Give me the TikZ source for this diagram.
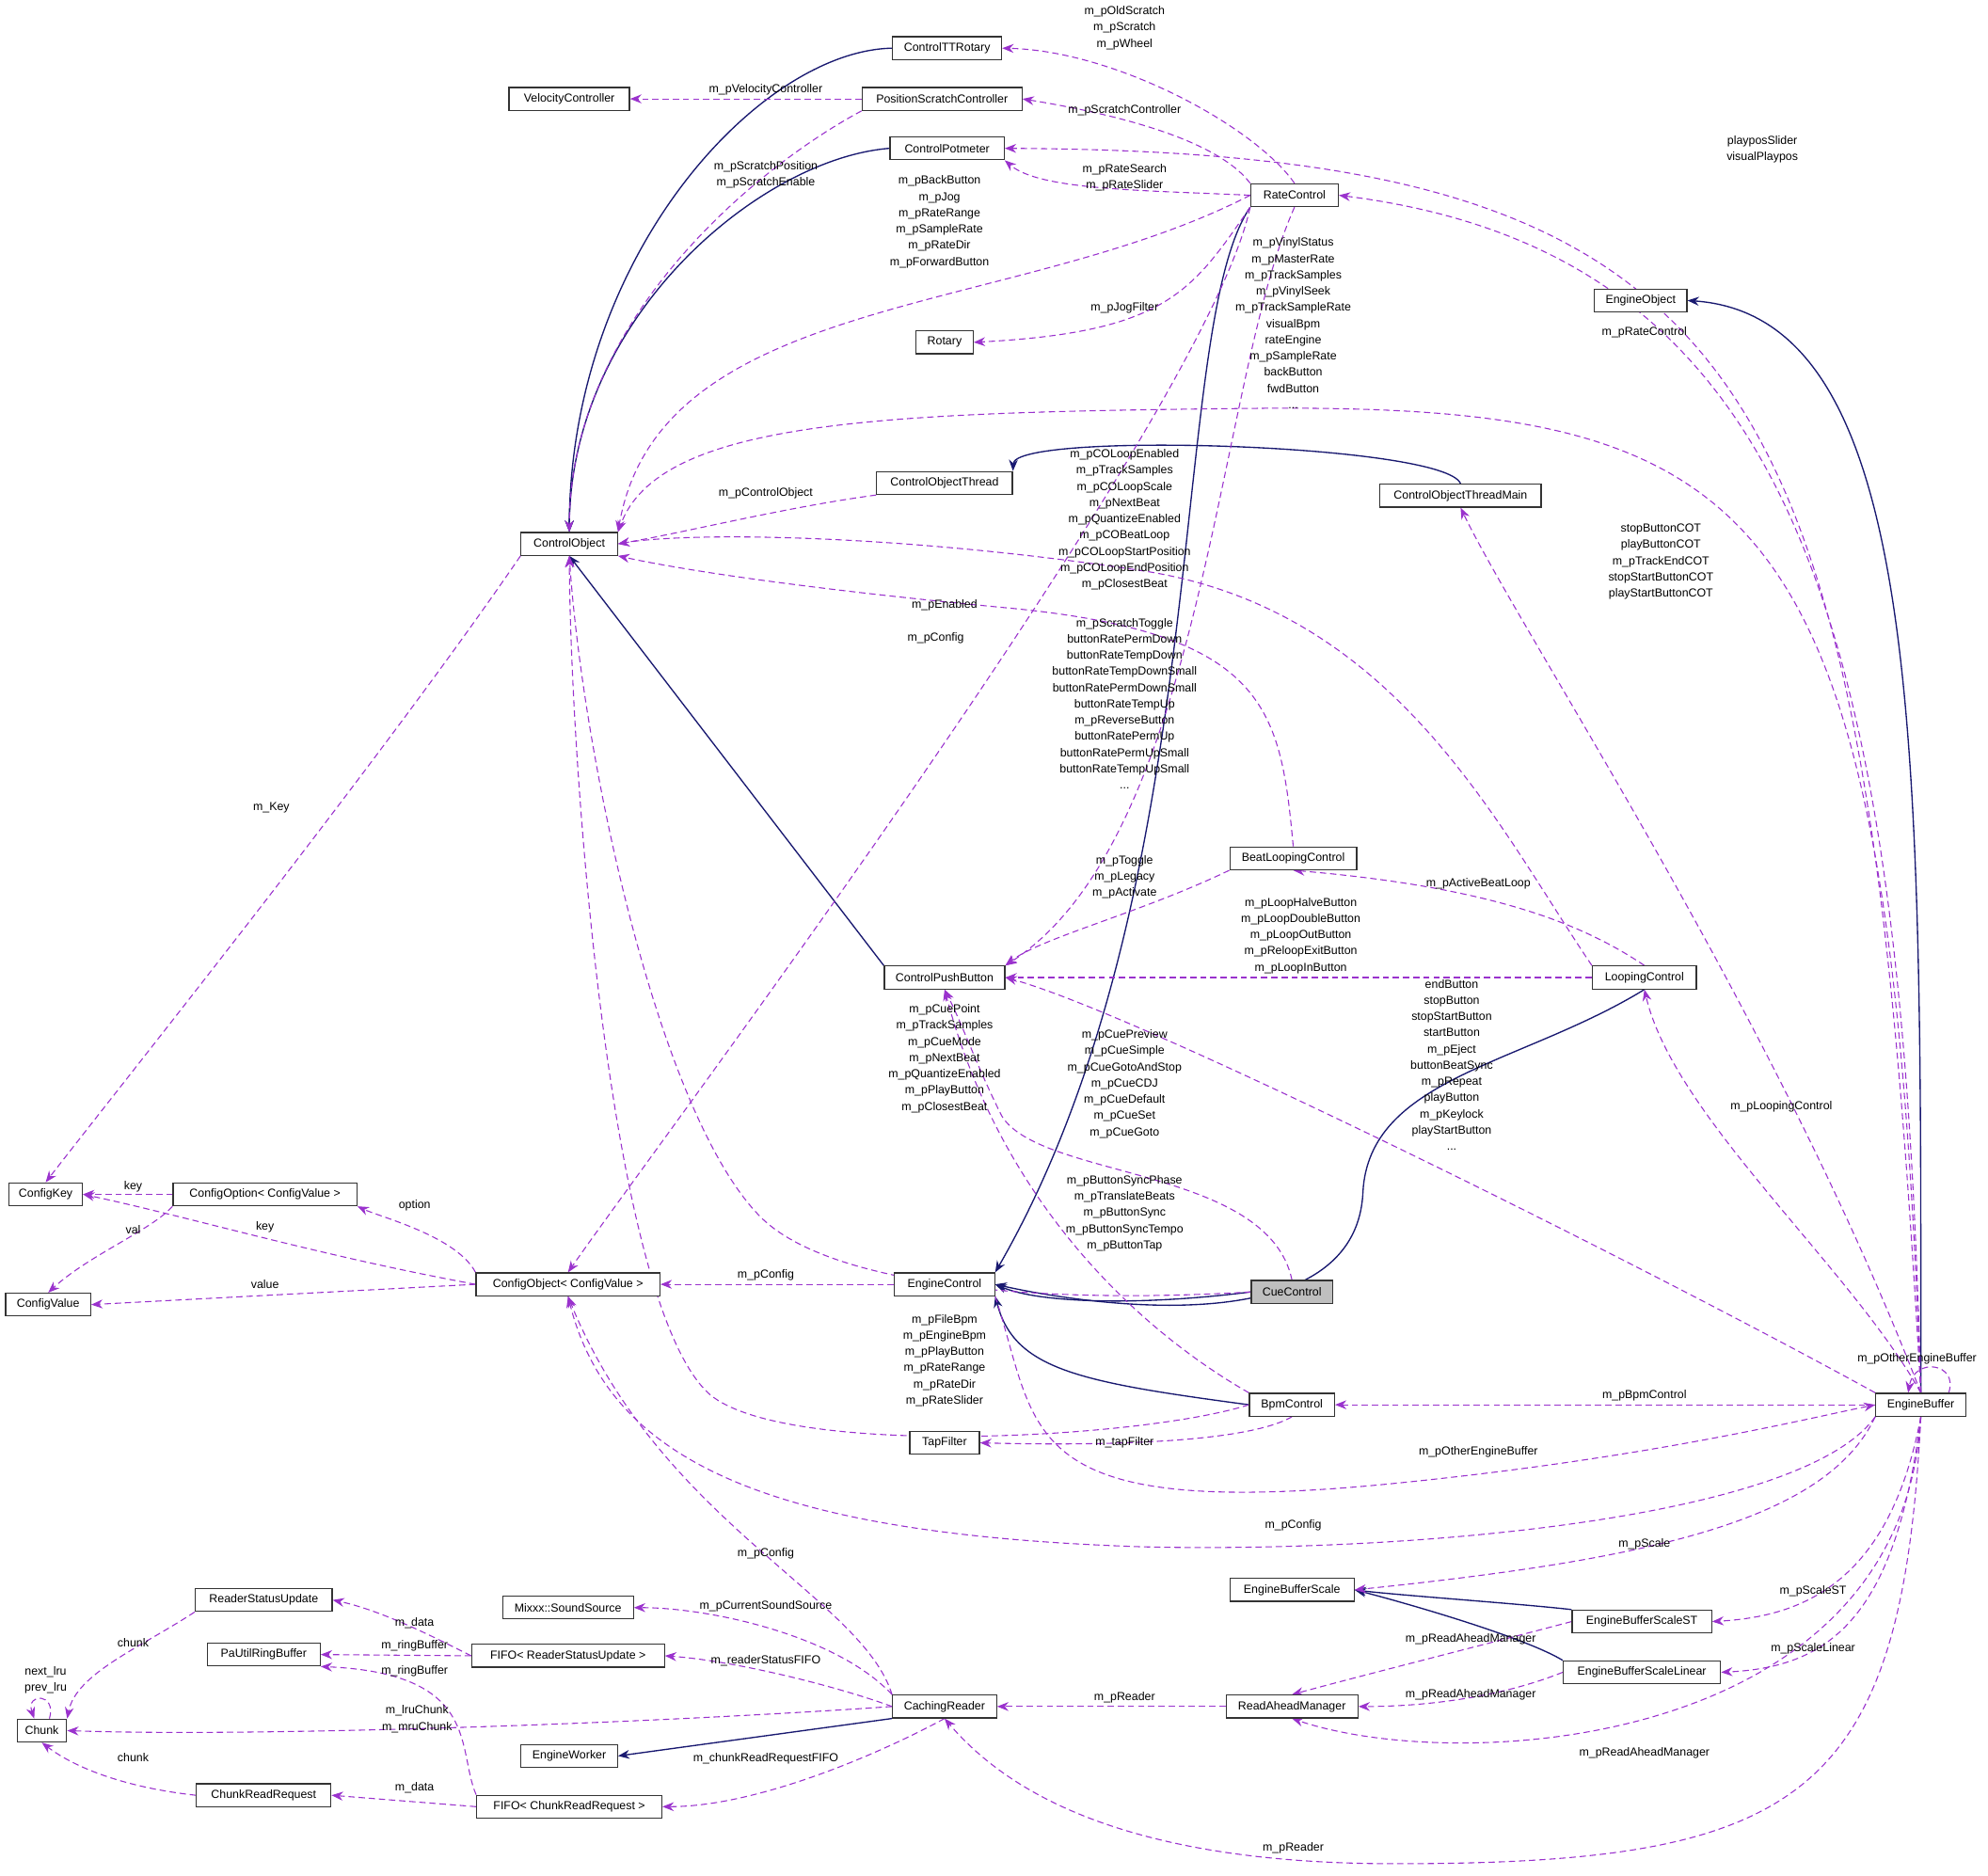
\documentclass[tikz,border=0pt]{standalone}
\usepackage{fontspec}
\setmainfont{Liberation Sans}
\usetikzlibrary{arrows.meta,calc}
\pgfdeclarelayer{bg}
\pgfsetlayers{bg,main}
\definecolor{dorch}{HTML}{9A32CD}
\definecolor{mblue}{HTML}{191970}
\tikzset{
 cls/.style={draw=black!80,line width=0.9pt,fill=white,minimum height=18pt,inner sep=1pt,font=\fontsize{9.2}{11}\selectfont},
 use/.style={draw=dorch,dashed,dash pattern=on 5pt off 3pt,line width=0.8pt,-{Stealth[length=9pt,width=7pt]}},
 inh/.style={draw=mblue,line width=1pt,-{Stealth[length=9pt,width=7pt]}},
 lbl/.style={align=center,inner sep=0pt,font=\fontsize{9.2}{12.8}\selectfont}
}
\begin{document}
\begin{tikzpicture}[x=1pt,y=-1pt]
\useasboundingbox (0,0) rectangle (1568,1479);
% nodes
\node[cls,minimum width=86pt] (ttr) at (747,38) {ControlTTRotary};
\node[cls,minimum width=95pt] (vel) at (449,78) {VelocityController};
\node[cls,minimum width=126pt] (psc) at (743,78) {PositionScratchController};
\node[cls,minimum width=90pt] (pot) at (747,117) {ControlPotmeter};
\node[cls,minimum width=69pt] (rate) at (1021,154) {RateControl};
\node[cls,minimum width=73pt] (eo) at (1294,237) {EngineObject};
\node[cls,minimum width=45pt] (rot) at (745,270) {Rotary};
\node[cls,minimum width=107pt] (cot) at (745,381) {ControlObjectThread};
\node[cls,minimum width=127pt] (cotm) at (1152,391) {ControlObjectThreadMain};
\node[cls,minimum width=76pt] (co) at (449,429) {ControlObject};
\node[cls,minimum width=100pt] (blc) at (1020,677) {BeatLoopingControl};
\node[cls,minimum width=95pt] (cpb) at (745,771) {ControlPushButton};
\node[cls,minimum width=82pt] (lc) at (1297,771) {LoopingControl};
\node[cls,minimum width=58pt] (ck) at (36,942) {ConfigKey};
\node[cls,minimum width=145pt] (copt) at (209,942) {ConfigOption< ConfigValue >};
\node[cls,minimum width=67pt] (cv) at (38,1029) {ConfigValue};
\node[cls,minimum width=145pt] (cobj) at (448,1013) {ConfigObject< ConfigValue >};
\node[cls,minimum width=79pt] (ec) at (745,1013) {EngineControl};
\node[cls,minimum width=64pt,fill=black!25] (cue) at (1019,1019) {CueControl};
\node[cls,minimum width=67pt] (bpm) at (1019,1108) {BpmControl};
\node[cls,minimum width=71pt] (eb) at (1515,1108) {EngineBuffer};
\node[cls,minimum width=55pt] (tap) at (745,1138) {TapFilter};
\node[cls,minimum width=98pt] (ebs) at (1019,1254) {EngineBufferScale};
\node[cls,minimum width=110pt] (ebst) at (1295,1279) {EngineBufferScaleST};
\node[cls,minimum width=108pt] (rsu) at (208,1262) {ReaderStatusUpdate};
\node[cls,minimum width=103pt] (ss) at (448,1268) {Mixxx::SoundSource};
\node[cls,minimum width=89pt] (pau) at (208,1305) {PaUtilRingBuffer};
\node[cls,minimum width=152pt] (fr) at (448,1306) {FIFO< ReaderStatusUpdate >};
\node[cls,minimum width=124pt] (ebsl) at (1295,1319) {EngineBufferScaleLinear};
\node[cls,minimum width=39pt] (chunk) at (33,1365) {Chunk};
\node[cls,minimum width=82pt] (cr) at (745,1346) {CachingReader};
\node[cls,minimum width=104pt] (ram) at (1019,1346) {ReadAheadManager};
\node[cls,minimum width=76pt] (ew) at (449,1385) {EngineWorker};
\node[cls,minimum width=106pt] (crr) at (208,1416) {ChunkReadRequest};
\node[cls,minimum width=146pt] (fc) at (449,1425) {FIFO< ChunkReadRequest >};

\begin{pgfonlayer}{bg}
% inheritance
\draw[inh] (ttr.west) .. controls (600,40) and (450,200) .. (co.north);
\draw[inh] (pot.west) .. controls (600,125) and (450,250) .. (co.north);
\draw[inh] (cpb.north west) -- (co.south);
\draw[inh] (cotm.north) .. controls (1140,350) and (800,340) .. (cot.north east);
\draw[inh] (eb.north) .. controls (1515,600) and (1520,250) .. (eo.east);
\draw[inh] (rate.south west) .. controls (920,260) and (960,700) .. (ec.north east);
\draw[inh] (lc.south) .. controls (1200,840) and (1080,850) .. (1075,940) .. controls (1070,1060) and (860,1030) .. (ec.east);
\draw[inh] (cue.west) .. controls (900,1030) and (820,1028) .. (ec.east);
\draw[inh] (bpm.west) .. controls (850,1090) and (800,1080) .. (ec.south east);
\draw[inh] (ebst.north west) .. controls (1200,1265) and (1100,1258) .. (ebs.east);
\draw[inh] (ebsl.north west) .. controls (1200,1290) and (1100,1262) .. (ebs.east);
\draw[inh] (cr.south west) -- (ew.east);

% usage
\draw[use] (rate.north) .. controls (990,100) and (880,40) .. (ttr.east);
\draw[use] (rate.north west) .. controls (960,110) and (880,90) .. (psc.east);
\draw[use] (rate.west) .. controls (900,150) and (820,150) .. (pot.south east);
\draw[use] (rate.west) .. controls (800,250) and (520,230) .. (co.north east);
\draw[use] (rate.south west) .. controls (940,230) and (920,262) .. (rot.east);
\draw[use] (rate.south west) .. controls (950,330) and (520,900) .. (cobj.north);
\draw[use] (rate.south) .. controls (960,300) and (950,660) .. (cpb.north east);
\draw[use] (psc.south west) .. controls (600,130) and (450,250) .. (co.north);
\draw[use] (psc.west) -- (vel.east);
\draw[use] (eb.north) .. controls (1470,300) and (1400,120) .. (pot.east);
\draw[use] (eb.north) .. controls (1500,500) and (1420,200) .. (rate.east);
\draw[use] (eb.north) .. controls (1490,400) and (1400,320) .. (1000,322) .. controls (700,325) and (520,330) .. (co.north east);
\draw[use] (eb.north) .. controls (1400,800) and (1200,500) .. (cotm.south);
\draw[use] (eb.north west) .. controls (1300,1000) and (900,800) .. (cpb.east);
\draw[use] (eb.north) .. controls (1460,1000) and (1320,880) .. (lc.south);
\draw[use] ($(eb.north)+(22,0)$) .. controls (1545,1075) and (1510,1070) .. ($(eb.north)+(-10,0)$);
\draw[use] (eb.west) -- (bpm.east);
\draw[use] (ec.south east) .. controls (820,1130) and (800,1200) .. (1100,1170) .. controls (1300,1150) and (1420,1120) .. (eb.west);
\draw[use] (eb.south west) .. controls (1420,1200) and (1100,1225) .. (900,1220) .. controls (600,1210) and (480,1150) .. (cobj.south);
\draw[use] (eb.south west) .. controls (1440,1200) and (1300,1230) .. (ebs.east);
\draw[use] (eb.south) .. controls (1490,1250) and (1420,1275) .. (ebst.east);
\draw[use] (eb.south) .. controls (1495,1280) and (1440,1315) .. (ebsl.east);
\draw[use] (eb.south) .. controls (1500,1380) and (1150,1400) .. (ram.south);
\draw[use] (eb.south) .. controls (1500,1420) and (1420,1470) .. (1100,1470) .. controls (900,1470) and (800,1420) .. (cr.south);
\draw[use] (ebst.west) .. controls (1160,1300) and (1080,1320) .. (ram.north);
\draw[use] (ebsl.west) .. controls (1180,1340) and (1120,1346) .. (ram.east);
\draw[use] (ram.west) -- (cr.east);
\draw[use] (lc.north west) .. controls (1180,650) and (1100,480) .. (900,450) .. controls (700,420) and (540,420) .. (co.east);
\draw[use] (blc.north) .. controls (1010,560) and (1000,500) .. (800,480) .. controls (640,465) and (540,450) .. (co.south east);
\draw[use] (lc.north) .. controls (1250,730) and (1180,700) .. (blc.south);
\draw[use] (lc.west) -- (cpb.east);
\draw[use] (blc.south west) .. controls (900,720) and (820,740) .. (cpb.north east);
\draw[use] (cue.north) .. controls (1000,920) and (820,930) .. (790,880) .. controls (770,840) and (760,810) .. (cpb.south);
\draw[use] (cue.west) .. controls (800,1030) and (650,1010) .. (600,960) .. controls (520,880) and (460,600) .. (co.south);
\draw[use] (bpm.north west) .. controls (900,1050) and (790,950) .. (cpb.south);
\draw[use] (bpm.west) .. controls (900,1135) and (620,1150) .. (560,1100) .. controls (480,1030) and (450,600) .. (co.south);
\draw[use] (bpm.south) .. controls (980,1140) and (850,1140) .. (tap.east);
\draw[use] (ec.west) -- (cobj.east);
\draw[use] (cobj.west) .. controls (250,990) and (150,960) .. (ck.east);
\draw[use] (cobj.west) -- (cv.east);
\draw[use] (cobj.north west) .. controls (360,975) and (300,960) .. (copt.south east);
\draw[use] (copt.west) -- (ck.east);
\draw[use] (copt.south west) .. controls (120,970) and (70,990) .. (cv.north);
\draw[use] (co.south west) .. controls (300,600) and (100,850) .. (ck.north);
\draw[use] (cot.south west) .. controls (620,400) and (540,420) .. (co.east);
\draw[use] (cr.north west) .. controls (680,1260) and (520,1200) .. (cobj.south);
\draw[use] (cr.north west) .. controls (660,1290) and (560,1268) .. (ss.east);
\draw[use] (cr.west) .. controls (660,1330) and (580,1310) .. (fr.east);
\draw[use] (cr.west) .. controls (500,1360) and (200,1370) .. (chunk.east);
\draw[use] (cr.south) .. controls (700,1380) and (600,1425) .. (fc.east);
\draw[use] (fr.west) .. controls (340,1290) and (300,1270) .. (rsu.east);
\draw[use] (fr.west) -- (pau.east);
\draw[use] (fc.north west) .. controls (360,1380) and (380,1320) .. (pau.south east);
\draw[use] (fc.west) -- (crr.east);
\draw[use] (rsu.south west) .. controls (110,1300) and (60,1320) .. (chunk.north east);
\draw[use] (crr.west) .. controls (100,1410) and (60,1395) .. (chunk.south);
\draw[use] ($(chunk.north)+(6,0)$) .. controls (45,1335) and (20,1335) .. ($(chunk.north)+(-6,0)$);
\end{pgfonlayer}

% labels
\node[lbl] (l1) at (887,22) {m\_pOldScratch\\m\_pScratch\\m\_pWheel};
\node[lbl] (l2) at (887,87) {m\_pScratchController};
\node[lbl] (l3) at (887,140) {m\_pRateSearch\\m\_pRateSlider};
\node[lbl] (l4) at (741,175) {m\_pBackButton\\m\_pJog\\m\_pRateRange\\m\_pSampleRate\\m\_pRateDir\\m\_pForwardButton};
\node[lbl] (l5) at (887,243) {m\_pJogFilter};
\node[lbl] (l6) at (738,503) {m\_pConfig};
\node[lbl] (l7) at (887,555) {m\_pScratchToggle\\buttonRatePermDown\\buttonRateTempDown\\buttonRateTempDownSmall\\buttonRatePermDownSmall\\buttonRateTempUp\\m\_pReverseButton\\buttonRatePermUp\\buttonRatePermUpSmall\\buttonRateTempUpSmall\\...};
\node[lbl] (l8) at (604,138) {m\_pScratchPosition\\m\_pScratchEnable};
\node[lbl] (l9) at (604,71) {m\_pVelocityController};
\node[lbl] (l10) at (1390,118) {playposSlider\\visualPlaypos};
\node[lbl] (l11) at (1297,262) {m\_pRateControl};
\node[lbl] (l12) at (1020,255) {m\_pVinylStatus\\m\_pMasterRate\\m\_pTrackSamples\\m\_pVinylSeek\\m\_pTrackSampleRate\\visualBpm\\rateEngine\\m\_pSampleRate\\backButton\\fwdButton\\...};
\node[lbl] (l13) at (1310,443) {stopButtonCOT\\playButtonCOT\\m\_pTrackEndCOT\\stopStartButtonCOT\\playStartButtonCOT};
\node[lbl] (l14) at (1145,840) {endButton\\stopButton\\stopStartButton\\startButton\\m\_pEject\\buttonBeatSync\\m\_pRepeat\\playButton\\m\_pKeylock\\playStartButton\\...};
\node[lbl] (l15) at (1405,873) {m\_pLoopingControl};
\node[lbl] (l16) at (1512,1072) {m\_pOtherEngineBuffer};
\node[lbl] (l17) at (1297,1101) {m\_pBpmControl};
\node[lbl] (l18) at (1166,1145) {m\_pOtherEngineBuffer};
\node[lbl] (l19) at (1020,1203) {m\_pConfig};
\node[lbl] (l20) at (1297,1218) {m\_pScale};
\node[lbl] (l21) at (1430,1255) {m\_pScaleST};
\node[lbl] (l22) at (1430,1300) {m\_pScaleLinear};
\node[lbl] (l23) at (1297,1383) {m\_pReadAheadManager};
\node[lbl] (l24) at (1020,1458) {m\_pReader};
\node[lbl] (l25) at (1160,1293) {m\_pReadAheadManager};
\node[lbl] (l26) at (1160,1337) {m\_pReadAheadManager};
\node[lbl] (l27) at (887,1339) {m\_pReader};
\node[lbl] (l28) at (887,410) {m\_pCOLoopEnabled\\m\_pTrackSamples\\m\_pCOLoopScale\\m\_pNextBeat\\m\_pQuantizeEnabled\\m\_pCOBeatLoop\\m\_pCOLoopStartPosition\\m\_pCOLoopEndPosition\\m\_pClosestBeat};
\node[lbl] (l29) at (745,477) {m\_pEnabled};
\node[lbl] (l30) at (1166,697) {m\_pActiveBeatLoop};
\node[lbl] (l31) at (1026,738) {m\_pLoopHalveButton\\m\_pLoopDoubleButton\\m\_pLoopOutButton\\m\_pReloopExitButton\\m\_pLoopInButton};
\node[lbl] (l32) at (887,692) {m\_pToggle\\m\_pLegacy\\m\_pActivate};
\node[lbl] (l33) at (887,855) {m\_pCuePreview\\m\_pCueSimple\\m\_pCueGotoAndStop\\m\_pCueCDJ\\m\_pCueDefault\\m\_pCueSet\\m\_pCueGoto};
\node[lbl] (l34) at (745,835) {m\_pCuePoint\\m\_pTrackSamples\\m\_pCueMode\\m\_pNextBeat\\m\_pQuantizeEnabled\\m\_pPlayButton\\m\_pClosestBeat};
\node[lbl] (l35) at (887,957) {m\_pButtonSyncPhase\\m\_pTranslateBeats\\m\_pButtonSync\\m\_pButtonSyncTempo\\m\_pButtonTap};
\node[lbl] (l36) at (745,1073) {m\_pFileBpm\\m\_pEngineBpm\\m\_pPlayButton\\m\_pRateRange\\m\_pRateDir\\m\_pRateSlider};
\node[lbl] (l37) at (887,1138) {m\_tapFilter};
\node[lbl] (l38) at (604,1006) {m\_pConfig};
\node[lbl] (l39) at (209,968) {key};
\node[lbl] (l40) at (209,1013) {value};
\node[lbl] (l41) at (327,951) {option};
\node[lbl] (l42) at (105,936) {key};
\node[lbl] (l43) at (105,970) {val};
\node[lbl] (l44) at (214,637) {m\_Key};
\node[lbl] (l45) at (604,389) {m\_pControlObject};
\node[lbl] (l46) at (604,1225) {m\_pConfig};
\node[lbl] (l47) at (604,1267) {m\_pCurrentSoundSource};
\node[lbl] (l48) at (604,1310) {m\_readerStatusFIFO};
\node[lbl] (l49) at (329,1356) {m\_lruChunk\\m\_mruChunk};
\node[lbl] (l50) at (604,1387) {m\_chunkReadRequestFIFO};
\node[lbl] (l51) at (327,1280) {m\_data};
\node[lbl] (l52) at (327,1298) {m\_ringBuffer};
\node[lbl] (l53) at (327,1318) {m\_ringBuffer};
\node[lbl] (l54) at (327,1410) {m\_data};
\node[lbl] (l55) at (105,1296) {chunk};
\node[lbl] (l56) at (105,1386) {chunk};
\node[lbl] (l57) at (36,1325) {next\_lru\\prev\_lru};
\end{tikzpicture}
\end{document}
